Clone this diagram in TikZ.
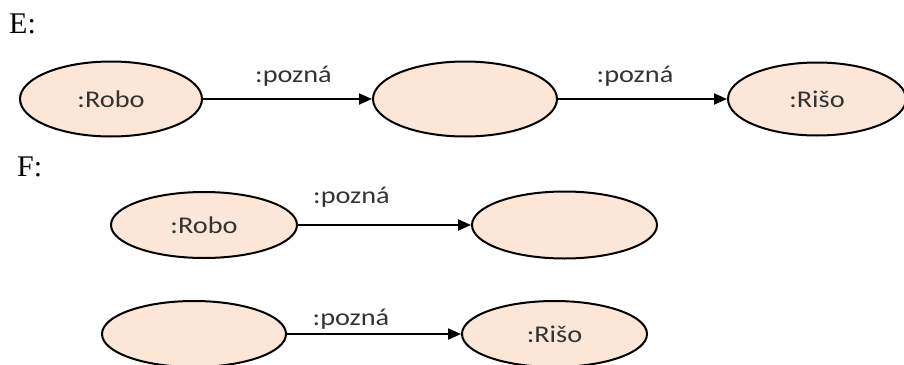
\documentclass[tikz,border=0pt]{standalone}
\usepackage{fontspec}
\setmainfont{Liberation Serif}
\newfontfamily\lblfont{Carlito}
\usetikzlibrary{arrows.meta,shapes.geometric}
\definecolor{peach}{HTML}{FBE6D7}
\definecolor{txtgray}{HTML}{333333}
\newcommand\wlbl[1]{\scalebox{1.18}[1]{#1}}
\tikzset{
  obj/.style={ellipse, draw=black, line width=2pt, fill=peach, inner sep=0pt, text=txtgray,
    font=\lblfont\fontsize{24}{27}\selectfont, text height=16pt, text depth=0pt},
  rel/.style={draw=black, line width=2pt, -{Triangle[length=13pt,width=11pt]}},
  rlbl/.style={font=\lblfont\fontsize{24}{27}\selectfont, text=txtgray, anchor=base, inner sep=0pt},
  head/.style={font=\fontsize{30}{33}\selectfont, anchor=base west, inner sep=0pt}
}
\begin{document}
\begin{tikzpicture}[x=1pt,y=-1pt]
\useasboundingbox (0,0) rectangle (904,364);
\clip (0,0) rectangle (904,364);
% headings
\node[head] (hE) at (9,33) {E:};
\node[head] (hF) at (17,176) {F:};
% E row
\node[obj, minimum width=182pt, minimum height=75pt] (e1) at (111,99) {\wlbl{:Robo}};
\node[obj, minimum width=184pt, minimum height=75pt] (e2) at (465,99) {};
\node[obj, minimum width=178pt, minimum height=73pt] (e3) at (817,99) {\wlbl{:Rišo}};
\draw[rel] (e1) -- (e2);
\draw[rel] (e2) -- (e3);
\node[rlbl] (l1) at (293.5,82) {\wlbl{:pozná}};
\node[rlbl] (l2) at (635,82) {\wlbl{:pozná}};
% F row 1
\node[obj, minimum width=186pt, minimum height=66pt] (f1) at (204,225) {\wlbl{:Robo}};
\node[obj, minimum width=185pt, minimum height=67pt] (f2) at (564.5,225) {};
\draw[rel] (f1) -- (f2);
\node[rlbl] (l3) at (351.5,203) {\wlbl{:pozná}};
% F row 2
\node[obj, minimum width=184pt, minimum height=66pt] (g1) at (194,334) {};
\node[obj, minimum width=185pt, minimum height=66pt] (g2) at (554.5,334) {\wlbl{:Rišo}};
\draw[rel] (g1) -- (g2);
\node[rlbl] (l4) at (351,325) {\wlbl{:pozná}};
\end{tikzpicture}
\end{document}
